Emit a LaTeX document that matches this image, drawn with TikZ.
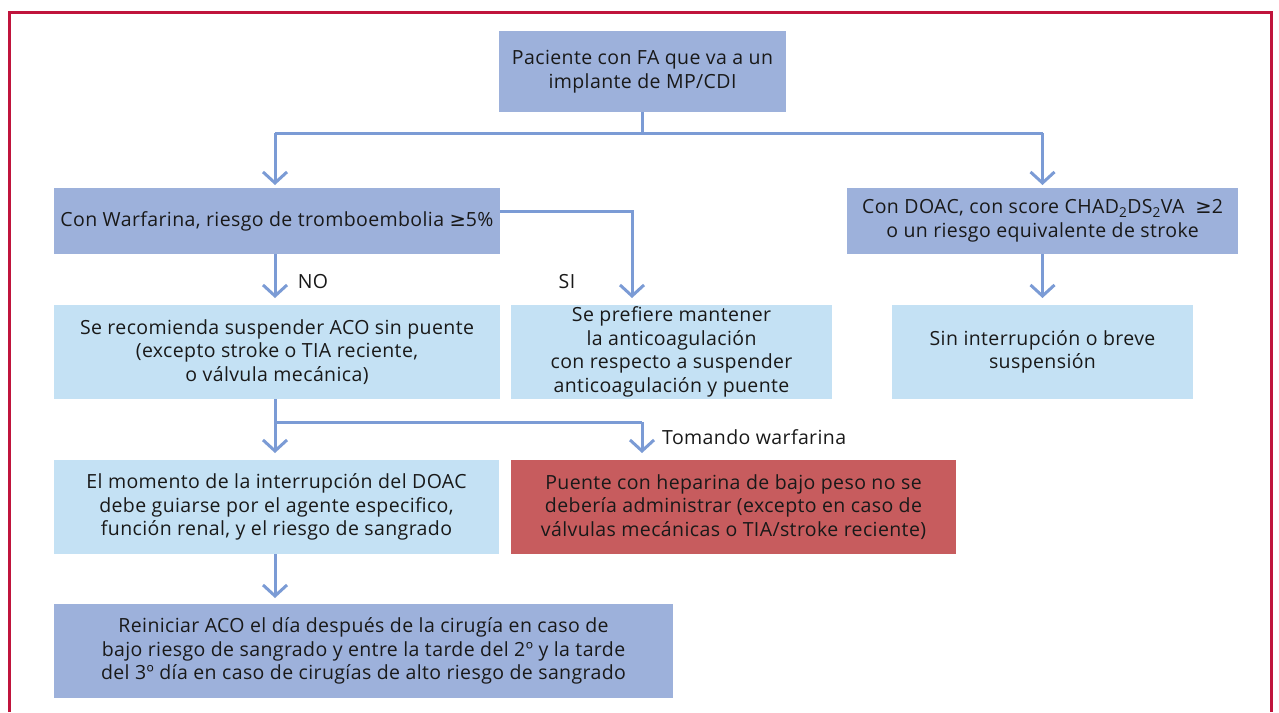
\documentclass[tikz,border=0pt]{standalone}
\usepackage{fontspec}
\setmainfont{Open Sans}[LetterSpace=2]
\newfontfamily\symfont{DejaVu Sans}
\usetikzlibrary{arrows.meta}
\definecolor{frame}{HTML}{C0143C}
\definecolor{boxblue}{HTML}{9DB1DB}
\definecolor{boxlight}{HTML}{C4E1F4}
\definecolor{boxred}{HTML}{C75C5E}
\definecolor{conn}{HTML}{7B9BD5}
\begin{document}
\begin{tikzpicture}[x=1pt,y=-1pt,
  bx/.style={rectangle,inner sep=0pt,align=center,text=black!90,font=\fontsize{19.5}{23.6}\selectfont},
  dark/.style={bx,fill=boxblue},
  light/.style={bx,fill=boxlight},
  redbox/.style={bx,fill=boxred},
  lbl/.style={font=\fontsize{19.5}{23.6}\selectfont,inner sep=0pt,text=black!90},
  conline/.style={draw=conn,line width=3pt},
  arr/.style={conline,-{Straight Barb[length=11pt,width=24pt]}}
]
\useasboundingbox (0,0) rectangle (1279,712);
\draw[frame,line width=3pt] (9,712) -- (9,12) -- (1271,12) -- (1271,712);

\node[dark,minimum width=287pt,minimum height=81pt] (top) at (642.5,71.5)
  {Paciente con FA que va a un\\implante de MP/CDI};
\node[dark,minimum width=446pt,minimum height=66pt] (warf) at (277,221)
  {Con Warfarina, riesgo de tromboembolia {\symfont ≥}5\%};
\node[dark,minimum width=391pt,minimum height=66pt] (doac) at (1042.5,221)
  {Con DOAC, con score CHAD\textsubscript{2}DS\textsubscript{2}VA\ \ {\symfont ≥}2\\o un riesgo equivalente de stroke};
\node[light,minimum width=446pt,minimum height=94pt] (rec) at (277,352)
  {Se recomienda suspender ACO sin puente\\(excepto stroke o TIA reciente,\\o válvula mecánica)};
\node[light,minimum width=321pt,minimum height=94pt] (pref) at (671.5,352)
  {Se prefiere mantener\\la anticoagulación\\con respecto a suspender\\anticoagulación y puente};
\node[light,minimum width=301pt,minimum height=94pt] (sin) at (1042.5,352)
  {Sin interrupción o breve\\suspensión};
\node[light,minimum width=445pt,minimum height=94pt] (mom) at (276.5,507)
  {El momento de la interrupción del DOAC\\debe guiarse por el agente especifico,\\función renal, y el riesgo de sangrado};
\node[redbox,minimum width=445pt,minimum height=94pt] (puente) at (733.5,507)
  {Puente con heparina de bajo peso no se\\debería administrar (excepto en caso de\\válvulas mecánicas o TIA/stroke reciente)};
\node[dark,minimum width=619pt,minimum height=94pt] (rein) at (363.5,651)
  {Reiniciar ACO el día después de la cirugía en caso de\\bajo riesgo de sangrado y entre la tarde del 2º y la tarde\\del 3º día en caso de cirugías de alto riesgo de sangrado};

\node[lbl] (no) at (313,282) {NO};
\node[lbl] (si) at (567,282) {SI};
\node[lbl,anchor=west] (tom) at (662,437) {Tomando warfarina};

\coordinate (j1) at (642.5,133);
\coordinate (jl) at (275,133);
\coordinate (jr) at (1042.5,133);
\draw[conline] (top.south) -- (j1);
\draw[conline] (jl) -- (jr);
\draw[arr] (jl) -- (275,185);
\draw[arr] (jr) -- (1042.5,185);

\draw[arr] (warf.south -| 275,0) -- (275,298);
\draw[arr] (warf.east |- 0,211) -- (632,211) -- (632,298);
\draw[arr] (doac.south) -- (1042.5,298);

\coordinate (k1) at (275,422);
\coordinate (k2) at (642,422);
\draw[conline] (rec.south -| k1) -- (k1) -- (k2);
\draw[arr] (k1) -- (275,453);
\draw[arr] (k2) -- (642,453);

\draw[arr] (mom.south -| 275,0) -- (275,598);
\end{tikzpicture}
\end{document}
